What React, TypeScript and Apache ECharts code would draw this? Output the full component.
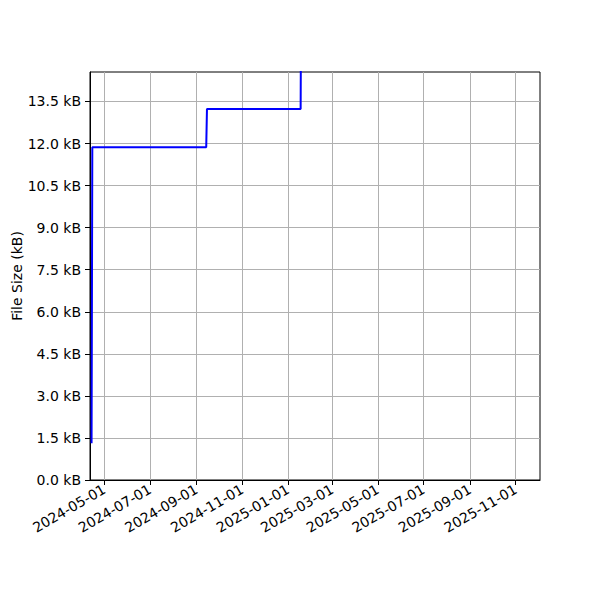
import React, { useEffect, useRef } from "react";
import * as echarts from "echarts";

const DAY = 24 * 3600 * 1000;

// commit dates (UTC) and file sizes in kB
const sizeDates: string[] = [
  "2024-04-14",
  "2024-04-15",
  "2024-09-14",
  "2024-09-15",
  "2025-01-18",
  "2025-01-19",
];
const sizeValues: number[] = [1.31, 11.87, 11.87, 13.23, 13.23, 20.0];

const xTickDates: string[] = [
  "2024-05-01",
  "2024-07-01",
  "2024-09-01",
  "2024-11-01",
  "2025-01-01",
  "2025-03-01",
  "2025-05-01",
  "2025-07-01",
  "2025-09-01",
  "2025-11-01",
];
const yTicks: number[] = [0, 1.5, 3, 4.5, 6, 7.5, 9, 10.5, 12, 13.5];

const toTime = (d: string) => Date.parse(d + "T00:00:00Z");
const fmtDate = (v: number) => new Date(v).toISOString().slice(0, 10);

const App: React.FC = () => {
  const chartRef = useRef<HTMLDivElement | null>(null);

  useEffect(() => {
    const chartDom = chartRef.current;
    if (!chartDom) return;
    const myChart = echarts.init(chartDom, undefined, { renderer: "svg" });

    const font = "DejaVu Sans";
    // x axis is a plain value axis holding UTC milliseconds
    const xTicks = xTickDates.map(toTime);

    const option = {
      animation: false,
      backgroundColor: "#ffffff",
      textStyle: { fontFamily: font },
      grid: {
        left: 90,
        right: 60,
        top: 72,
        bottom: 120,
        containLabel: false,
        outerBoundsMode: "none",
        show: true,
        borderColor: "#000000",
        borderWidth: 1,
        backgroundColor: "transparent",
      },
      xAxis: {
        type: "value",
        min: toTime("2024-04-11") + 0.92 * DAY,
        max: toTime("2025-12-03") + 0.4 * DAY,
        axisLine: { show: true, onZero: false, lineStyle: { color: "#000", width: 1 } },
        axisTick: {
          show: true,
          inside: false,
          length: 5,
          lineStyle: { color: "#000", width: 1 },
          customValues: xTicks,
        },
        axisLabel: {
          show: true,
          rotate: 30,
          margin: 8,
          fontSize: 14,
          color: "#000",
          fontFamily: font,
          customValues: xTicks,
          hideOverlap: false,
          formatter: (v: number) => fmtDate(v),
        },
        splitLine: { show: true, lineStyle: { color: "#b0b0b0", width: 1 } },
      },
      yAxis: {
        type: "value",
        min: 0,
        max: 14.55,
        name: "File Size (kB)",
        nameLocation: "middle",
        nameGap: 66,
        nameMoveOverlap: false,
        nameTextStyle: { fontSize: 14, color: "#000", fontFamily: font },
        axisLine: { show: true, onZero: false, lineStyle: { color: "#000", width: 1 } },
        axisTick: {
          show: true,
          inside: false,
          length: 5,
          lineStyle: { color: "#000", width: 1 },
          customValues: yTicks,
        },
        axisLabel: {
          show: true,
          margin: 9,
          fontSize: 14,
          color: "#000",
          fontFamily: font,
          customValues: yTicks,
          formatter: (v: number) => `${v.toFixed(1)} kB`,
        },
        splitLine: { show: true, lineStyle: { color: "#b0b0b0", width: 1 } },
      },
      series: [
        {
          type: "line",
          data: sizeDates.map((d, i) => [toTime(d), sizeValues[i]]),
          showSymbol: false,
          symbol: "none",
          clip: true,
          lineStyle: { color: "#0000ff", width: 2 },
        },
      ],
    };

    myChart.setOption(option);
    return () => {
      myChart.dispose();
    };
  }, []);

  return (
    <div
      ref={chartRef}
      style={{ position: "fixed", top: 0, left: 0, width: 600, height: 600 }}
    />
  );
};

export default App;
